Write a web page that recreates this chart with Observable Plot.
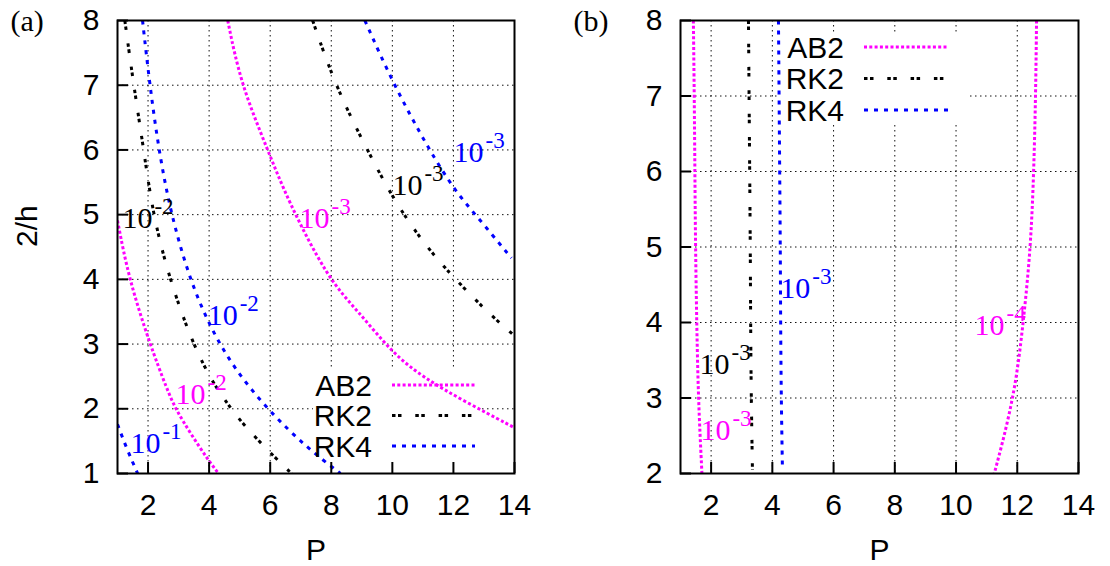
<!DOCTYPE html>
<html>
<head>
<meta charset="utf-8">
<script src="https://cdn.jsdelivr.net/npm/d3@7"></script>
<script src="https://cdn.jsdelivr.net/npm/@observablehq/plot@0.6"></script>
<style>
  html, body { margin: 0; padding: 0; background: #fff; }
  #chart { position: relative; width: 1110px; height: 566px; overflow: hidden; }
  #chart svg { position: absolute; top: 0; }
</style>
</head>
<body>
<div id="chart"></div>
<script>
// ---- Data: error contours in the (P, 2/h) plane, as [P, 2/h] points ----
const methods = ["AB2", "RK2", "RK4"];

// Panel (a)
const ab2A_e2 = [[1.0, 4.91], [1.36, 4.03], [2.05, 3.01], [2.64, 2.28], [2.9, 2.0], [3.39, 1.62], [3.98, 1.2], [4.31, 1.0]];
const ab2A_e3 = [[4.61, 8.0], [5.03, 7.03], [5.92, 6.0], [6.57, 5.23], [7.9, 4.0], [8.86, 3.52], [10.0, 2.86], [11.03, 2.48], [12.34, 2.12], [13.95, 1.72]];
const rk2A_e2 = [[1.24, 8.0], [1.52, 7.03], [1.86, 6.0], [2.15, 5.03], [2.67, 4.05], [3.46, 3.0], [4.15, 2.38], [4.6, 2.08], [5.09, 1.77], [6.0, 1.32], [6.7, 1.0]];
const rk2A_e3 = [[7.39, 8.0], [8.15, 6.97], [9.23, 5.95], [10.05, 5.23], [10.87, 4.66], [11.68, 4.19], [13.05, 3.52], [13.92, 3.16]];
const rk4A_e1 = [[1.0, 1.76], [1.33, 1.35], [1.66, 1.0]];
const rk4A_e2 = [[1.82, 8.0], [2.05, 7.03], [2.35, 6.0], [2.74, 5.03], [3.33, 4.05], [3.98, 3.31], [4.8, 2.63], [5.95, 1.97], [7.2, 1.4], [8.3, 1.0]];
const rk4A_e3 = [[9.1, 8.0], [10.02, 7.03], [11.2, 6.0], [12.08, 5.35], [12.67, 5.03], [13.9, 4.33]];

// Panel (b)
const ab2B_e3 = [[1.42, 8.0], [1.45, 7.0], [1.47, 6.0], [1.49, 5.0], [1.53, 4.0], [1.58, 3.0], [1.7, 2.0]];
const ab2B_e4 = [[12.63, 8.0], [12.6, 7.0], [12.54, 6.0], [12.44, 5.0], [12.2, 4.0], [11.9, 3.0], [11.25, 2.0]];
const rk2B_e3 = [[3.22, 8.0], [3.24, 7.0], [3.26, 6.0], [3.28, 5.0], [3.29, 4.0], [3.31, 3.0], [3.35, 2.05]];
const rk4B_e3 = [[4.2, 8.0], [4.22, 7.0], [4.24, 6.0], [4.26, 5.0], [4.27, 4.0], [4.29, 3.0], [4.33, 2.05]];

// Contour labels: 10^exp placed at (P, 2/h)
const labelsA = [
  {method: "RK2", P: 1.26, v: 4.79, exp: "-2"},
  {method: "AB2", P: 7.06, v: 4.79, exp: "-3"},
  {method: "RK2", P: 10.1, v: 5.30, exp: "-3"},
  {method: "RK4", P: 12.1, v: 5.81, exp: "-3"},
  {method: "RK4", P: 4.05, v: 3.29, exp: "-2"},
  {method: "AB2", P: 3.0, v: 2.08, exp: "-2"},
  {method: "RK4", P: 1.52, v: 1.31, exp: "-1"}
];
const labelsB = [
  {method: "RK4", P: 4.36, v: 4.33, exp: "-3"},
  {method: "AB2", P: 10.7, v: 3.83, exp: "-4"},
  {method: "RK2", P: 1.72, v: 3.32, exp: "-3"},
  {method: "AB2", P: 1.75, v: 2.44, exp: "-3"}
];

// Axis ticks
const xTicks = [2, 4, 6, 8, 10, 12, 14];
const yTicksA = [1, 2, 3, 4, 5, 6, 7, 8];
const yTicksB = [2, 3, 4, 5, 6, 7, 8];

// ---- Styles ----
const color = {AB2: "#ff00ff", RK2: "#000000", RK4: "#0000ff"};
const dash = {AB2: "3,2.3", RK2: "3.5,2.5,3.5,13.8", RK4: "4,6"};
const sans = "'Liberation Sans', Arial, Helvetica, sans-serif";
const serif = "'Liberation Serif', 'Times New Roman', serif";
const W = 555, H = 566;
const FS = 30;

// Flatten curves to rows, ordered along each curve
function toRows(list) {
  return list.flatMap(([method, id, pts]) => pts.map(([P, v]) => ({method, id, P, v})));
}

// Key: white box hiding the grid, then the entries on top of the curves
function keyBox(k) {
  return (index, scales, values, dims) => {
    const right = dims.width - dims.marginRight;
    const top = k.anchor === "bottom" ? dims.height - dims.marginBottom - k.boxH : dims.marginTop + k.boxTop;
    const g = d3.create("svg:g");
    g.append("rect")
      .attr("x", right - k.boxRight - k.boxW).attr("y", top)
      .attr("width", k.boxW).attr("height", k.boxH).attr("fill", "white");
    return g.node();
  };
}
function keyEntries(k) {
  return (index, scales, values, dims) => {
    const right = dims.width - dims.marginRight;
    const y0 = k.anchor === "bottom" ? dims.height - dims.marginBottom + k.row0 : dims.marginTop + k.row0;
    const g = d3.create("svg:g");
    methods.forEach((m, i) => {
      const y = y0 + i * k.rowGap;
      g.append("text")
        .attr("x", right - k.textRight).attr("y", y).attr("dy", "0.36em")
        .attr("text-anchor", "end").attr("font-family", sans).attr("font-size", FS)
        .attr("fill", "black").text(m);
      g.append("line")
        .attr("x1", right - k.sampleFrom).attr("x2", right - k.sampleTo)
        .attr("y1", y).attr("y2", y)
        .attr("stroke", color[m]).attr("stroke-width", 3)
        .attr("stroke-dasharray", dash[m]);
    });
    return g.node();
  };
}

function panel({tag, yDomain, yTicks, curves, labels, key, marginLeft, marginRight}) {
  const rows = toRows(curves);
  const frameH = H - 20 - 93;
  const frameW = W - marginLeft - marginRight;
  return Plot.plot({
    width: W, height: H,
    marginLeft, marginRight, marginTop: 20, marginBottom: 93,
    x: {domain: [1, 14]},
    y: {domain: yDomain},
    color: {type: "identity"},
    style: {fontFamily: sans, fontSize: FS + "px", color: "black", background: "white", overflow: "visible"},
    marks: [
      // dotted grid
      Plot.ruleX(xTicks, {stroke: "#111", strokeWidth: 1, strokeDasharray: "1.5,3.5"}),
      Plot.ruleY(yTicks, {stroke: "#111", strokeWidth: 1, strokeDasharray: "1.5,3.5"}),
      keyBox(key),
      // contour curves, one mark per method for its dash pattern
      ...methods.map(m => Plot.line(rows.filter(d => d.method === m), {
        x: "P", y: "v", z: "id", stroke: color[m], strokeWidth: 3,
        strokeDasharray: dash[m], strokeLinecap: "butt", curve: "basis", clip: true
      })),
      keyEntries(key),
      // contour labels 10^exp
      Plot.text(labels, {x: "P", y: "v", text: () => "10", fill: d => color[d.method],
        fontFamily: serif, fontSize: 30, textAnchor: "start", lineAnchor: "bottom", dx: -3}),
      Plot.text(labels, {x: "P", y: "v", text: "exp", fill: d => color[d.method],
        fontFamily: serif, fontSize: 23, textAnchor: "start", lineAnchor: "bottom", dx: 29, dy: -14}),
      // inward ticks
      Plot.ruleX(xTicks, {insetTop: frameH - 11, stroke: "black", strokeWidth: 2}),
      Plot.ruleY(yTicks, {insetRight: frameW - 11, stroke: "black", strokeWidth: 2}),
      Plot.axisX(xTicks, {tickSize: 0, tickPadding: 20, label: null, tickFormat: d => String(d)}),
      Plot.axisY(yTicks, {tickSize: 0, tickPadding: 18, label: null, tickFormat: d => String(d)}),
      Plot.text(["P"], {frameAnchor: "bottom", dy: 86, lineAnchor: "bottom", fontSize: FS, fontFamily: sans}),
      ...(tag === "(a)" ? [Plot.text(["2/h"], {frameAnchor: "left", rotate: -90, dx: -90, fontSize: FS, fontFamily: sans})] : []),
      Plot.text([tag], {frameAnchor: "top-left", dx: -107, dy: 1, textAnchor: "start", lineAnchor: "middle", fontFamily: serif, fontSize: 30}),
      Plot.frame({stroke: "black", strokeWidth: 2})
    ]
  });
}

const chartA = panel({
  tag: "(a)", yDomain: [1, 8], yTicks: yTicksA,
  curves: [["AB2", "a1", ab2A_e2], ["AB2", "a2", ab2A_e3], ["RK2", "b1", rk2A_e2], ["RK2", "b2", rk2A_e3],
           ["RK4", "c1", rk4A_e1], ["RK4", "c2", rk4A_e2], ["RK4", "c3", rk4A_e3]],
  labels: labelsA,
  key: {anchor: "bottom", boxRight: 36, boxW: 165, boxH: 105, row0: -88, rowGap: 30.5, textRight: 142, sampleFrom: 122, sampleTo: 39},
  marginLeft: 117, marginRight: 41
});
const chartB = panel({
  tag: "(b)", yDomain: [2, 8], yTicks: yTicksB,
  curves: [["AB2", "a1", ab2B_e3], ["AB2", "a2", ab2B_e4], ["RK2", "b1", rk2B_e3], ["RK4", "c1", rk4B_e3]],
  labels: labelsB,
  key: {anchor: "top", boxRight: 110, boxTop: 13, boxW: 190, boxH: 91, row0: 27, rowGap: 31.5, textRight: 234, sampleFrom: 214, sampleTo: 130},
  marginLeft: 125, marginRight: 32
});
chartA.style.left = "0px";
chartB.style.left = W + "px";
document.getElementById("chart").append(chartA, chartB);
</script>
</body>
</html>
